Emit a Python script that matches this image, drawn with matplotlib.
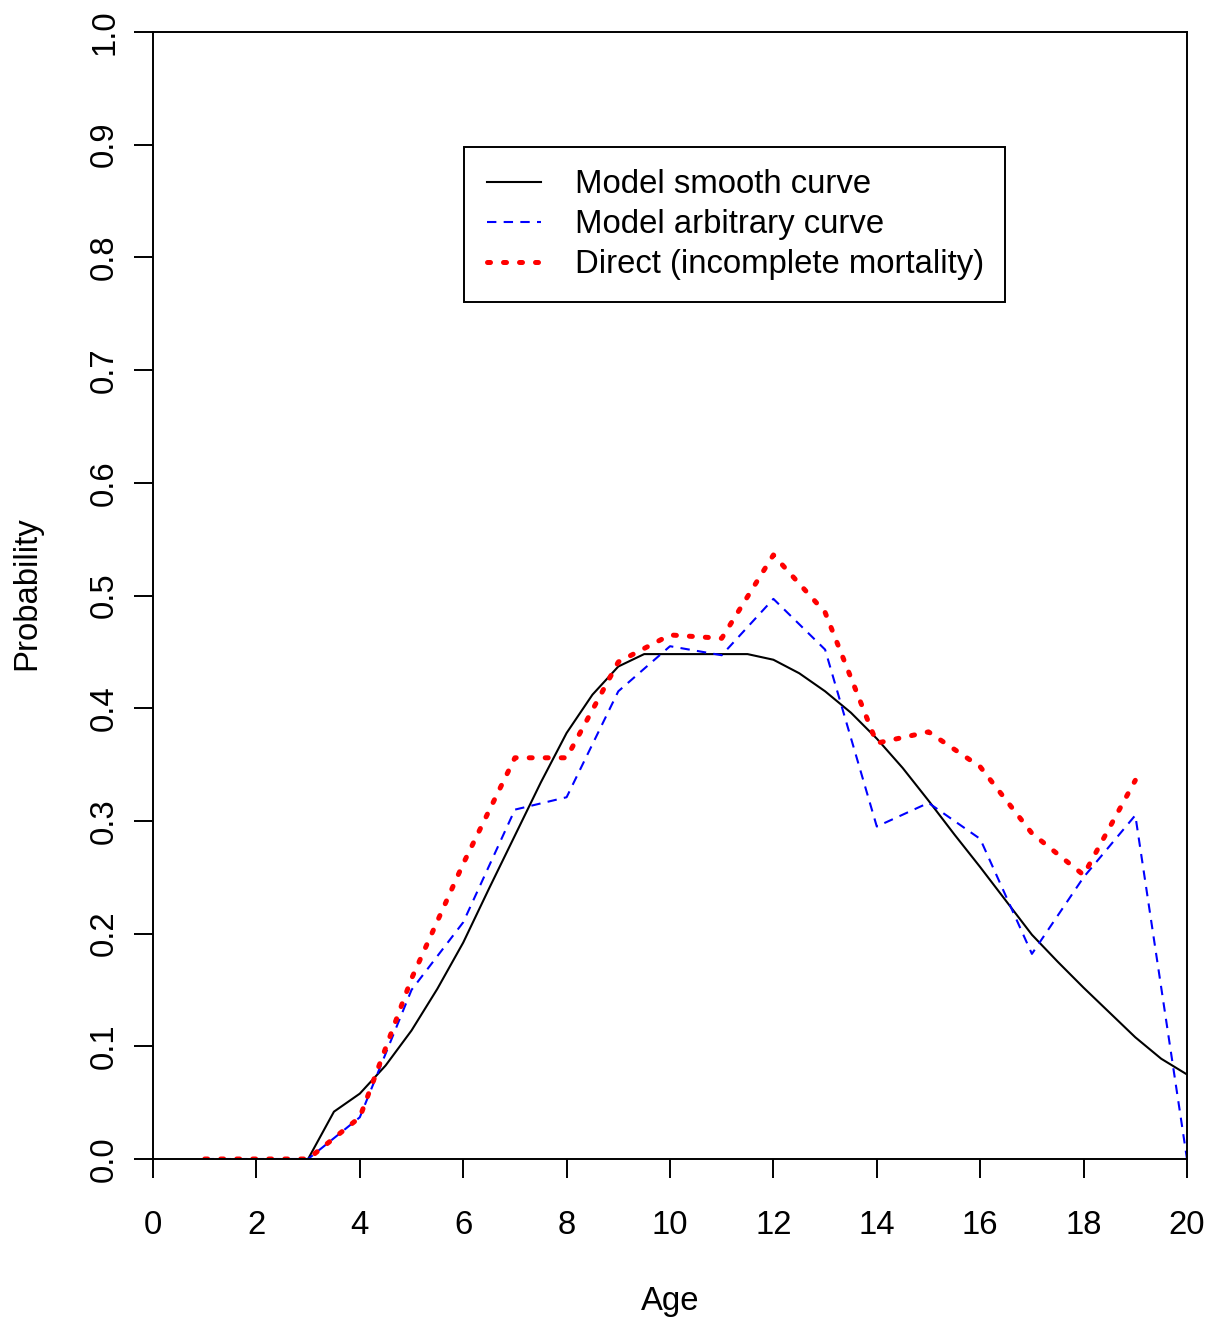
import numpy as np
import matplotlib.pyplot as plt

plt.rcParams['font.family'] = ['Liberation Sans', 'DejaVu Sans']

# smooth model curve, sampled every half year from age 3
smooth_age = np.arange(3, 20.01, 0.5)
smooth_p = [0.0, 0.042, 0.058, 0.083, 0.114, 0.151, 0.192, 0.240, 0.287, 0.334,
            0.378, 0.412, 0.437, 0.448, 0.448, 0.448, 0.448, 0.448, 0.443, 0.431,
            0.415, 0.396, 0.373, 0.347, 0.318, 0.288, 0.259, 0.229, 0.199, 0.175,
            0.152, 0.130, 0.108, 0.089, 0.075]

arb_age = list(range(1, 21))
arb_p = [0, 0, 0, 0.037, 0.15, 0.21, 0.31, 0.321, 0.415, 0.455,
         0.447, 0.497, 0.452, 0.295, 0.316, 0.284, 0.182, 0.25, 0.305, 0.0]

direct_age = list(range(1, 20))
direct_p = [0, 0, 0, 0.037, 0.16, 0.262, 0.356, 0.356, 0.441, 0.465,
            0.462, 0.536, 0.485, 0.369, 0.379, 0.348, 0.289, 0.252, 0.336]

xticks = list(range(0, 21, 2))
yticks = [round(0.1 * i, 1) for i in range(11)]

fs = 23.7
fig = plt.figure(figsize=(12.16, 13.22), dpi=100)
ax = fig.add_axes([153/1216, 1 - 1159/1322, 1034/1216, 1127/1322])

ax.plot(smooth_age, smooth_p, color='black', lw=1.5, label='Model smooth curve')
ax.plot(arb_age, arb_p, color='blue', lw=1.5, linestyle=(0, (4.5, 3.5)),
        label='Model arbitrary curve')
ax.plot(direct_age, direct_p, color='red', lw=3.6, linestyle=(0, (0.6, 2.6)),
        dash_capstyle='round', label='Direct (incomplete mortality)')

ax.set_xlim(0, 20)
ax.set_ylim(0, 1)
ax.set_xticks(xticks)
ax.set_xticklabels([str(t) for t in xticks])
ax.set_yticks(yticks)
ax.set_yticklabels(['%.1f' % t for t in yticks], rotation=90, va='center')
ax.tick_params(direction='out', length=13.7, width=1.4, labelsize=fs)
ax.tick_params(axis='x', pad=23)
ax.tick_params(axis='y', pad=10)
for s in ax.spines.values():
    s.set_linewidth(1.4)

ax.set_xlabel('Age', fontsize=fs, va='center')
ax.xaxis.set_label_coords(0.5, -0.126)
ax.set_ylabel('Probability', fontsize=fs, va='center')
ax.yaxis.set_label_coords(-0.122, 0.502)

leg = ax.legend(loc='upper left', bbox_to_anchor=(0.301, 0.764, 0.523, 0.134),
                mode='expand', fontsize=fs, frameon=True, fancybox=False,
                edgecolor='black', framealpha=1, handlelength=1.66,
                handletextpad=1.04, labelspacing=0.27, borderpad=0.68,
                borderaxespad=0)
leg.get_frame().set_linewidth(1.4)

fig.savefig('out.png', dpi=100)
